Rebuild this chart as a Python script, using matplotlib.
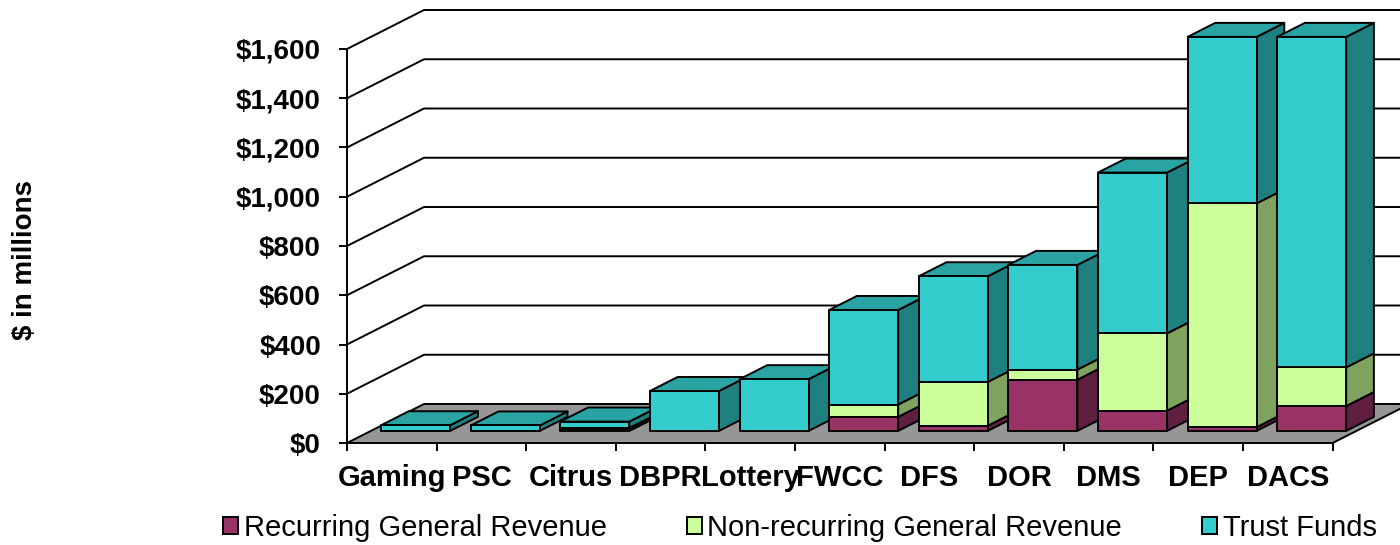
import matplotlib
matplotlib.use('Agg')
import matplotlib.pyplot as plt
from matplotlib.patches import Polygon, Patch

# ---------------- data ----------------
categories = ['Gaming', 'PSC', 'Citrus', 'DBPR', 'Lottery', 'FWCC',
              'DFS', 'DOR', 'DMS', 'DEP', 'DACS']
recurring = [0, 0, 3, 0, 0, 57, 21, 208, 82, 15, 101]
nonrecurring = [0, 0, 9, 0, 0, 50, 178, 41, 314, 909, 157]
trust = [23, 22, 26, 162, 210, 384, 429, 425, 653, 676, 1342]
series_names = ['Recurring General Revenue', 'Non-recurring General Revenue', 'Trust Funds']
yticks = [0, 200, 400, 600, 800, 1000, 1200, 1400, 1600]
ytick_labels = ['$0', '$200', '$400', '$600', '$800', '$1,000', '$1,200', '$1,400', '$1,600']

# ---------------- style ----------------
plt.rcParams['font.family'] = ['Liberation Sans', 'DejaVu Sans']
front_colors = ['#993366', '#CCFF99', '#33CCCC']
side_colors = ['#5E1F40', '#7FA35F', '#1F8080']
top_colors = ['#7A2952', '#A3CC7A', '#29A3A3']
floor_color = '#969696'
LW = 1.4

W, H = 1400, 545
fig = plt.figure(figsize=(W / 100, H / 100), dpi=100)
px_left, px_bottom, px_top = 347, 443, 10
cat_px = 89.6
val_px = 394 / 1600.0
DX = 77 / cat_px          # depth offset in category units
DY = 39 / val_px          # depth offset in value units
ncat = len(categories)

ax = fig.add_axes([px_left / W, (H - px_bottom) / H,
                   (W - px_left) / W, (px_bottom - px_top) / H])
xmax = (W - px_left) / cat_px
ax.set_xlim(0, xmax)
ax.set_ylim(0, yticks[-1] + DY)
ax.patch.set_visible(False)
for s in ['top', 'right', 'bottom']:
    ax.spines[s].set_visible(False)
ax.spines['left'].set_bounds(0, yticks[-1])
ax.spines['left'].set_linewidth(LW)
ax.spines['left'].set_zorder(5)

# y ticks
ax.set_yticks(yticks)
ax.set_yticklabels(ytick_labels, fontsize=20, fontweight='bold')
ax.tick_params(axis='y', length=5.8, width=LW, pad=13)

# x ticks: boundaries as major ticks, labels on minor ticks
ax.set_xticks(range(ncat + 1))
ax.set_xticklabels([''] * (ncat + 1))
ax.set_xticks([i + 0.5 for i in range(ncat)], minor=True)
ax.set_xticklabels(categories, minor=True, fontsize=21, fontweight='bold')
ax.tick_params(axis='x', which='major', length=5.8, width=LW, color='black')
ax.tick_params(axis='x', which='minor', length=0, pad=15)

# back wall / side gridlines
for v in yticks[1:]:
    ax.plot([0, DX, xmax], [v, v + DY, v + DY], color='black', lw=LW,
            zorder=1, clip_on=False, solid_capstyle='butt')

# floor
ax.add_patch(Polygon([(0, 0), (ncat, 0), (ncat + DX, DY), (DX, DY)],
                     closed=True, facecolor=floor_color, edgecolor='black',
                     lw=LW, zorder=2, clip_on=False))

# bars
BW = 0.77
d0, d1 = 0.31, 0.67
dd = d1 - d0
z = 3
for i in range(ncat):
    vals = [recurring[i], nonrecurring[i], trust[i]]
    base = 0.0
    nz = [k for k in range(3) if vals[k] > 0]
    last = nz[-1]
    x0 = i + (1 - BW) / 2 + d0 * DX
    x1 = x0 + BW
    for k in nz:
        v = vals[k]
        y0 = base + d0 * DY
        y1 = base + v + d0 * DY
        side = [(x1, y0), (x1 + dd * DX, y0 + dd * DY),
                (x1 + dd * DX, y1 + dd * DY), (x1, y1)]
        ax.add_patch(Polygon(side, closed=True, facecolor=side_colors[k],
                             edgecolor='black', lw=LW, zorder=z, joinstyle='round'))
        z += 1
        if k == last:
            top = [(x0, y1), (x1, y1), (x1 + dd * DX, y1 + dd * DY),
                   (x0 + dd * DX, y1 + dd * DY)]
            ax.add_patch(Polygon(top, closed=True, facecolor=top_colors[k],
                                 edgecolor='black', lw=LW, zorder=z, joinstyle='round'))
            z += 1
        front = [(x0, y0), (x1, y0), (x1, y1), (x0, y1)]
        ax.add_patch(Polygon(front, closed=True, facecolor=front_colors[k],
                             edgecolor='black', lw=LW, zorder=z, joinstyle='round'))
        z += 1
        base += v

# y label
fig.text(25 / W, 1 - 260 / H, '$ in millions', rotation=90, ha='center',
         va='center', fontsize=20, fontweight='bold')

# legend
handles = [Patch(facecolor=c, edgecolor='black', lw=LW) for c in front_colors]
fig.legend(handles, series_names, loc='center', bbox_to_anchor=(800 / W, 1 - 528 / H),
           ncol=3, frameon=False, fontsize=21, handlelength=0.5, handleheight=0.5,
           handletextpad=0.2, columnspacing=2.75, borderpad=0, borderaxespad=0)

fig.savefig('out.png', dpi=100)
